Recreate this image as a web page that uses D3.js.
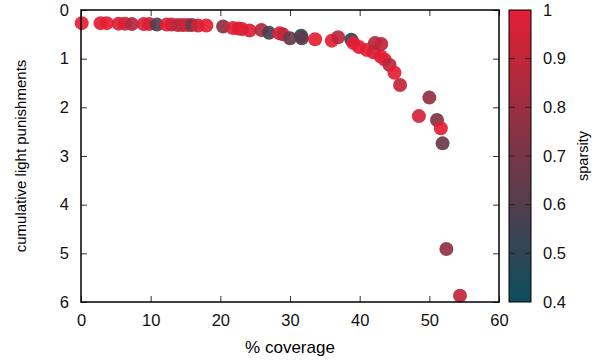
<html>
    <head>
        <title>Coverage vs punishments</title>
        <style>
            body { margin: 0; background: white; }
            text { font-family: "Liberation Sans", Arial, sans-serif; }
        </style>
    </head>
    <body>
        <svg></svg>

        <script src="https://d3js.org/d3.v7.min.js"></script>
        <script>
            // data
            const coverage = [0.1, 2.8, 3.7, 5.4, 6.3, 7.3, 9.0, 9.8, 10.9, 12.3, 13.0, 13.9, 14.6, 15.3, 15.9,
                16.8, 18.0, 20.4, 21.8, 22.6, 23.1, 24.2, 25.9, 27.0, 28.5, 29.0, 30.0, 31.6, 31.7, 33.6,
                36.0, 36.9, 38.8, 39.1, 39.9, 41.0, 42.0, 42.2, 43.1, 43.0, 43.6, 44.3, 45.0, 45.8,
                48.5, 50.0, 51.1, 51.65, 51.9, 52.45, 54.4];
            const punishments = [0.27, 0.27, 0.27, 0.28, 0.28, 0.29, 0.29, 0.29, 0.30, 0.30, 0.30, 0.31, 0.31, 0.31, 0.31,
                0.32, 0.32, 0.34, 0.37, 0.38, 0.39, 0.42, 0.41, 0.47, 0.48, 0.50, 0.58, 0.53, 0.58, 0.6,
                0.63, 0.56, 0.61, 0.68, 0.76, 0.82, 0.87, 0.68, 0.70, 0.95, 1.02, 1.13, 1.29, 1.54,
                2.18, 1.80, 2.26, 2.43, 2.74, 4.91, 5.87];
            const sparsity = [1.0, 0.98, 1.0, 0.98, 0.97, 0.85, 0.98, 0.97, 0.6, 1.0, 0.96, 0.88, 0.9, 0.95, 0.68,
                0.95, 1.0, 0.75, 1.0, 0.97, 1.0, 0.98, 0.86, 0.57, 1.0, 0.9, 0.65, 0.5, 0.62, 1.0,
                1.0, 0.9, 0.48, 1.0, 1.0, 1.0, 0.98, 0.88, 0.9, 0.97, 1.0, 0.87, 1.0, 0.92,
                0.95, 0.78, 0.72, 1.0, 0.66, 0.77, 0.9];
            const xTicks = [0, 10, 20, 30, 40, 50, 60];
            const yTicks = [0, 1, 2, 3, 4, 5, 6];
            const cTicks = [0.4, 0.5, 0.6, 0.7, 0.8, 0.9, 1];

            window.onload = function() {
                const width = 599;
                const height = 360;

                const svg = d3.select("svg")
                    .attr("width", width)
                    .attr("height", height);

                // plot area
                const left = 81, right = 499, top = 10, bottom = 302;

                const x = d3.scaleLinear().domain([0, 60]).range([left, right]);
                const y = d3.scaleLinear().domain([0, 6]).range([top, bottom]);
                const color = d3.scaleLinear().domain([0.4, 1])
                    .range(["#0b4e5c", "#e41e34"])
                    .interpolate(d3.interpolateRgb);

                const points = coverage.map(function(c, i) {
                    return {x: c, y: punishments[i], s: sparsity[i]};
                });

                // points
                svg.append("g")
                    .selectAll("circle")
                    .data(points)
                    .join("circle")
                    .attr("cx", function(d) { return x(d.x); })
                    .attr("cy", function(d) { return y(d.y); })
                    .attr("r", 7)
                    .attr("fill", function(d) { return color(d.s); })
                    .attr("fill-opacity", 0.92);

                // axes with inward ticks
                const tickLen = 6;
                svg.append("g")
                    .attr("transform", "translate(0," + bottom + ")")
                    .call(d3.axisBottom(x).tickValues(xTicks).tickSize(-tickLen).tickPadding(12).tickFormat(d3.format("d")))
                    .call(function(g) { g.select(".domain").remove(); });
                svg.append("g")
                    .attr("transform", "translate(0," + top + ")")
                    .call(d3.axisTop(x).tickValues(xTicks).tickSize(-tickLen).tickFormat(""))
                    .call(function(g) { g.select(".domain").remove(); });
                svg.append("g")
                    .attr("transform", "translate(" + left + ",0)")
                    .call(d3.axisLeft(y).tickValues(yTicks).tickSize(-tickLen).tickPadding(12).tickFormat(d3.format("d")))
                    .call(function(g) { g.select(".domain").remove(); });
                svg.append("g")
                    .attr("transform", "translate(" + right + ",0)")
                    .call(d3.axisRight(y).tickValues(yTicks).tickSize(-tickLen).tickFormat(""))
                    .call(function(g) { g.select(".domain").remove(); });

                svg.selectAll(".tick text")
                    .attr("font-size", 16.5)
                    .attr("fill", "#111")
                    .style("font-family", "'Liberation Sans', Arial, sans-serif");
                svg.selectAll(".tick line").attr("stroke", "#333");

                // frame
                svg.append("rect")
                    .attr("x", left)
                    .attr("y", top)
                    .attr("width", right - left)
                    .attr("height", bottom - top)
                    .attr("fill", "none")
                    .attr("stroke", "black")
                    .attr("stroke-width", 1.5);

                // axis titles
                svg.append("text")
                    .attr("x", (left + right) / 2)
                    .attr("y", 353)
                    .attr("text-anchor", "middle")
                    .attr("font-size", 17)
                    .text("% coverage");
                svg.append("text")
                    .attr("transform", "translate(26," + (top + bottom) / 2 + ") rotate(-90)")
                    .attr("text-anchor", "middle")
                    .attr("font-size", 15)
                    .text("cumulative light punishments");

                // colour bar
                const cbX = 509, cbW = 22;
                const c = d3.scaleLinear().domain([0.4, 1]).range([bottom, top]);
                const defs = svg.append("defs");
                const grad = defs.append("linearGradient")
                    .attr("id", "cbar")
                    .attr("x1", 0).attr("y1", 1)
                    .attr("x2", 0).attr("y2", 0);
                grad.selectAll("stop")
                    .data(d3.range(0, 1.0001, 0.1))
                    .join("stop")
                    .attr("offset", function(t) { return t; })
                    .attr("stop-color", function(t) { return color(0.4 + t * 0.6); });
                svg.append("rect")
                    .attr("x", cbX)
                    .attr("y", top)
                    .attr("width", cbW)
                    .attr("height", bottom - top)
                    .attr("fill", "url(#cbar)")
                    .attr("stroke", "black")
                    .attr("stroke-width", 1);

                const cb = svg.append("g");
                cb.selectAll("line.l")
                    .data(cTicks.slice(1, -1))
                    .join("line")
                    .attr("x1", cbX).attr("x2", cbX + 6)
                    .attr("y1", function(d) { return c(d); })
                    .attr("y2", function(d) { return c(d); })
                    .attr("stroke", "#222");
                cb.selectAll("line.r")
                    .data(cTicks.slice(1, -1))
                    .join("line")
                    .attr("x1", cbX + cbW - 6).attr("x2", cbX + cbW)
                    .attr("y1", function(d) { return c(d); })
                    .attr("y2", function(d) { return c(d); })
                    .attr("stroke", "#222");
                cb.selectAll("text")
                    .data(cTicks)
                    .join("text")
                    .attr("x", 543)
                    .attr("y", function(d) { return c(d); })
                    .attr("dy", "0.35em")
                    .attr("font-size", 16.5)
                    .attr("fill", "#111")
                    .text(function(d) { return d; });

                svg.append("text")
                    .attr("transform", "translate(588," + (top + bottom) / 2 + ") rotate(-90)")
                    .attr("text-anchor", "middle")
                    .attr("font-size", 14.5)
                    .text("sparsity");
            }
        </script>
    </body>
</html>
